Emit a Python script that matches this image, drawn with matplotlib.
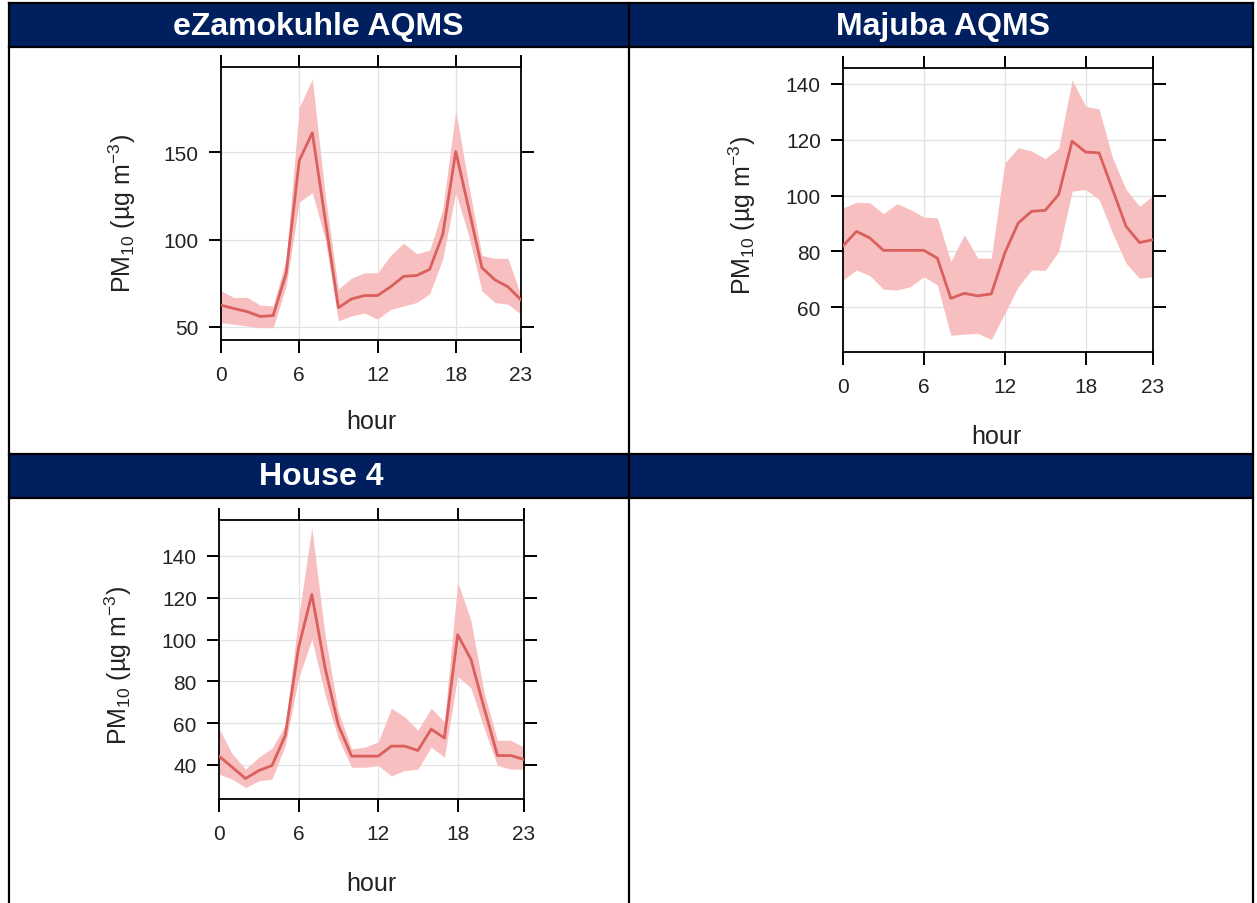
import matplotlib
matplotlib.use("Agg")
import matplotlib.pyplot as plt
from matplotlib.patches import Rectangle

plt.rcParams["font.family"] = ["Liberation Sans", "DejaVu Sans"]
plt.rcParams["mathtext.default"] = "regular"

W, H = 1257, 904
NAVY = "#001F5F"
LINE_COL = "#D9605C"
BAND_COL = "#F7BFBF"

hours = list(range(24))

# eZamokuhle AQMS
ez_mean = [62.5, 60.5, 58.8, 56, 56.5, 81, 145.4, 161.3, 111, 61, 66, 68,
           68, 73, 79, 79.5, 83, 103, 150.5, 117.6, 84, 77, 73, 65.5]
ez_upper = [70.7, 66.8, 67, 62.5, 62, 89, 176, 192, 125, 71.6, 78, 81,
            81, 91, 98, 92, 94, 117.6, 174, 131, 91, 89.3, 89.3, 68]
ez_lower = [52.5, 51.5, 50.5, 49.6, 49.6, 73.6, 121.5, 127, 100, 53.5, 56.3, 58,
            54.5, 60, 62, 64, 69, 89, 127, 102, 70.7, 64, 63, 57.3]

# Majuba AQMS
mj_mean = [82, 87.2, 84.8, 80.4, 80.4, 80.4, 80.4, 77.6, 63.2, 65, 64.1, 64.8,
           79.4, 90.2, 94.4, 94.7, 100.4, 119.5, 115.6, 115.3, 102.2, 89, 83.2, 84.2]
mj_upper = [95.6, 97.6, 97.4, 93.5, 97.1, 95, 92.3, 92, 76.4, 86, 77.6, 77.6,
            111.7, 117.1, 116, 113.2, 117, 141.4, 132, 131, 113.5, 102.2, 96.2, 100]
mj_lower = [69.8, 73.4, 71.3, 66.5, 66.2, 67.4, 71, 68, 50, 50.4, 50.7, 48.5,
            57.8, 67.4, 73.4, 73.2, 80, 101.6, 102.2, 98.6, 86.6, 75.8, 70.4, 71]

# House 4
h4_mean = [44.2, 38.9, 33.5, 37.3, 39.7, 54.2, 96.1, 121.6, 86.4, 59, 44.2, 44.2,
           44.2, 49, 49, 46.9, 57.1, 52.9, 102.3, 90.5, 67.1, 44.5, 44.5, 42.6]
h4_upper = [57.4, 45.3, 38, 43.7, 48, 59, 110.6, 153.4, 102, 65.5, 47.7, 48.5,
            51, 67.1, 63, 56.6, 67.1, 60.6, 127.6, 109, 74.4, 51.8, 51.8, 48.5]
h4_lower = [35.6, 33.2, 29.2, 32.4, 33.2, 49.4, 81.6, 100.2, 73.5, 52.6, 38.9, 38.9,
            39.7, 34.8, 37.3, 38, 48.5, 43.7, 82.4, 76.8, 57.4, 39.7, 38, 38]

titles = ["eZamokuhle AQMS", "Majuba AQMS", "House 4"]

fig = plt.figure(figsize=(W / 100, H / 100), dpi=100)

# table frame drawn in pixel space
bg = fig.add_axes([0, 0, 1, 1])
bg.set_xlim(0, W)
bg.set_ylim(H, 0)
bg.axis("off")
for top in (4, 455):
    bg.add_patch(Rectangle((9, top), 1244, 44, facecolor=NAVY, edgecolor="none"))
for y in (4, 48, 455, 499):
    bg.plot([9, 1253], [y, y], color="black", lw=1.6, solid_capstyle="projecting")
for x in (9, 629, 1253):
    bg.plot([x, x], [4, H], color="black", lw=1.6, solid_capstyle="projecting")

bg.text(318, 27, titles[0], color="white", fontsize=23, fontweight="bold",
        ha="center", va="center")
bg.text(943, 27, titles[1], color="white", fontsize=23, fontweight="bold",
        ha="center", va="center")
bg.text(321, 477, titles[2], color="white", fontsize=23, fontweight="bold",
        ha="center", va="center")


def panel(box, mean, upper, lower, ylim, yticks, ylab_xy, hour_xy):
    l, r, t, b = box
    ax = fig.add_axes([l / W, 1 - b / H, (r - l) / W, (b - t) / H])
    ax.fill_between(hours, lower, upper, color=BAND_COL, lw=0, zorder=2)
    ax.plot(hours, mean, color=LINE_COL, lw=2, zorder=3)
    ax.set_xlim(0, 23)
    ax.set_ylim(*ylim)
    ax.set_xticks([0, 6, 12, 18, 23])
    ax.set_yticks(yticks)
    ax.grid(color="#e2e2e2", lw=0.9, zorder=0)
    ax.set_axisbelow(True)
    for s in ax.spines.values():
        s.set_linewidth(1.3)
    ax.tick_params(direction="out", length=9, width=1.4, top=True, right=True,
                   labelsize=15, labelcolor="#222222")
    ax.tick_params(axis="x", pad=9)
    ax.tick_params(axis="y", pad=7)
    bg.text(ylab_xy[0], ylab_xy[1], "PM$_{10}$ (µg m$^{-3}$)", rotation=90,
            fontsize=18, color="#222222", ha="center", va="center")
    bg.text(hour_xy[0], hour_xy[1], "hour", fontsize=18, color="#222222",
            ha="center", va="center")
    return ax


panel((221, 521, 68, 341), ez_mean, ez_upper, ez_lower, (42.5, 199),
      [50, 100, 150], (122, 213), (371, 422))
panel((843, 1153, 69, 353), mj_mean, mj_upper, mj_lower, (44, 145.7),
      [60, 80, 100, 120, 140], (742, 215), (996, 437))
panel((219, 524, 521, 800), h4_mean, h4_upper, h4_lower, (23.7, 157.2),
      [40, 60, 80, 100, 120, 140], (118, 665), (371, 884))

fig.savefig("out.png", dpi=100)
